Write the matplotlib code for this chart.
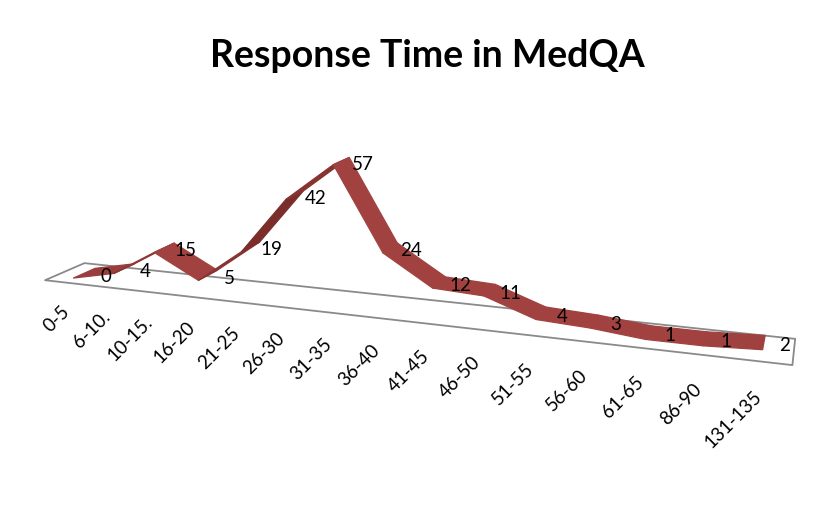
import matplotlib
matplotlib.use('Agg')
import matplotlib.pyplot as plt
import numpy as np
from mpl_toolkits.mplot3d import proj3d
from mpl_toolkits.mplot3d.art3d import Poly3DCollection

# response-time bins (seconds) and number of questions in each
categories = ['0-5', '6-10.', '10-15.', '16-20', '21-25', '26-30', '31-35', '36-40',
              '41-45', '46-50', '51-55', '56-60', '61-65', '86-90', '131-135']
counts = [0, 4, 15, 5, 19, 42, 57, 24, 12, 11, 4, 3, 1, 1, 2]

plt.rcParams['font.family'] = ['Lato', 'DejaVu Sans']

W, H = 834, 513
fig = plt.figure(figsize=(W / 100, H / 100), dpi=100)
fig.text(427 / W, 1 - 67 / H, 'Response Time in MedQA', ha='center', va='baseline',
         fontsize=27, fontweight='bold')

# big square 3d panel so nothing gets cut at the figure edges
S = 900
ax = fig.add_axes([-72 / W, -182 / H, S / W, S / H], projection='3d')
ax.set_axis_off()
ax.computed_zorder = False
ax.set_proj_type('persp', focal_length=0.245)
ax.view_init(elev=14, azim=-70)
ax.set_box_aspect((780, 75, 155), zoom=0.86)

n = len(counts)
xs = np.arange(n)

# floor of the chart
floor = [[(-0.5, 0, 0), (n - 0.5, 0, 0), (n - 0.5, 1, 0), (-0.5, 1, 0)]]
ax.add_collection3d(Poly3DCollection(floor, facecolor='white', edgecolor='#8a8a8a',
                                     linewidth=1.3, zorder=1), autolim=False)

# flat ribbon for the line, rising pieces shaded a little darker
y0, y1 = 0.22, 0.78
base = np.array([0.63, 0.26, 0.25])
dark = np.array([0.42, 0.14, 0.14])
faces, fcols = [], []
for i in range(n - 1):
    xa, xb = xs[i], xs[i + 1]
    za, zb = counts[i], counts[i + 1]
    faces.append([(xa, y0, za), (xb, y0, zb), (xb, y1, zb), (xa, y1, za)])
    k = min(max(zb - za, 0) / 30.0, 0.7)
    fcols.append(tuple(base * (1 - k) + dark * k))
ribbon = Poly3DCollection(faces, facecolors=fcols, edgecolors=fcols, linewidth=0.9, zorder=2)
ax.add_collection3d(ribbon, autolim=False)

ax.set_xlim(-0.5, n - 0.5)
ax.set_ylim(0, 1)
ax.set_zlim(0, 60)

M = ax.get_proj()
for i, (cat, v) in enumerate(zip(categories, counts)):
    px, py, _ = proj3d.proj_transform(xs[i], 0.5, v, M)
    ax.annotate(str(v), xy=(px, py), xycoords='data', xytext=(21, -3),
                textcoords='offset pixels', ha='center', va='center',
                fontsize=13.5, color='black', annotation_clip=False)
    tx, ty, _ = proj3d.proj_transform(xs[i], 0, -12, M)
    ax.text2D(tx, ty, cat, transform=ax.transData, rotation=45, rotation_mode='anchor',
              ha='right', va='center', fontsize=13.5, color='black')

fig.savefig('out.png', dpi=100)
